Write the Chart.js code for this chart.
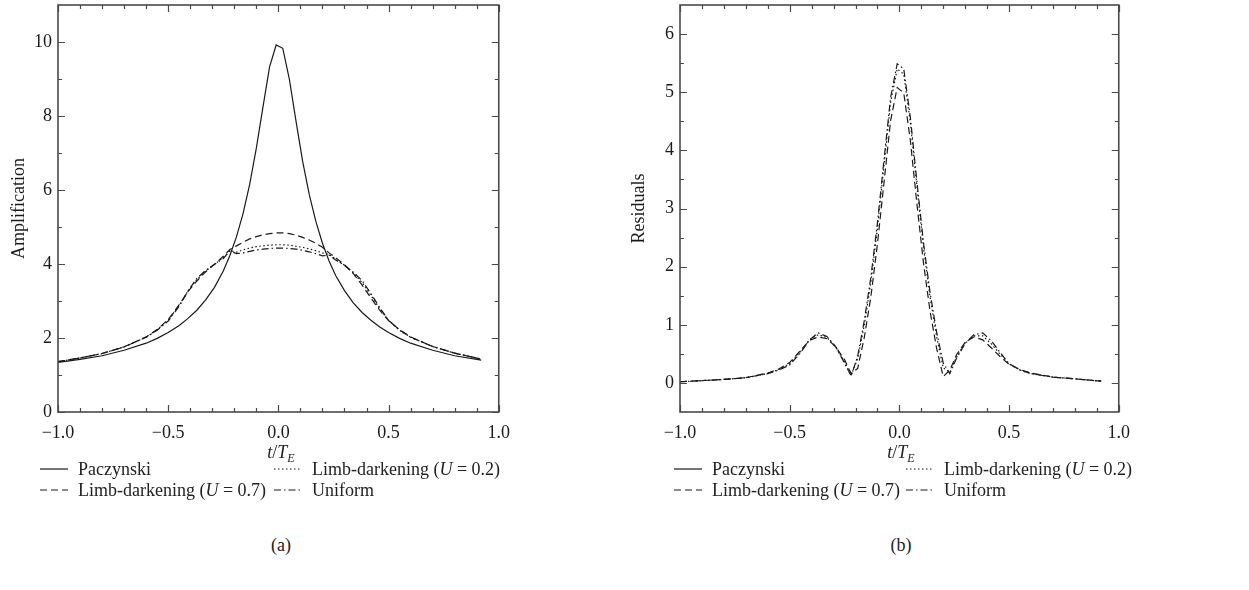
<!DOCTYPE html>
<html>
<head>
<meta charset="utf-8">
<script src="https://cdn.jsdelivr.net/npm/chart.js@4.4.1/dist/chart.umd.min.js"></script>
<style>
  body { margin: 0; background: #fff; font-family: 'Liberation Serif', 'DejaVu Serif', serif; color: #222; }
  #wrap { position: relative; width: 1249px; height: 590px; overflow: hidden; }
  canvas { position: absolute; top: 0; }
  .txt { position: absolute; font-size: 18px; white-space: nowrap; line-height: 1; }
  .ctr { transform: translate(-50%, -50%); }
  .leg { transform: translateY(-50%); display: flex; align-items: center; }
  .leg svg { margin-right: 10px; }
  sub { font-size: 12px; vertical-align: -4px; }
</style>
</head>
<body>
<div id="wrap">
  <canvas id="chartA" width="520" height="445" style="left:0px;width:520px;height:445px"></canvas>
  <canvas id="chartB" width="520" height="445" style="left:620px;width:520px;height:445px"></canvas>
</div>
<script>
// time axis, t / T_E
const tValues = [-1.0, -0.9, -0.8, -0.7, -0.6, -0.55, -0.5, -0.45, -0.41, -0.37, -0.33, -0.29, -0.25, -0.22,
  -0.19, -0.16, -0.13, -0.10, -0.07, -0.04, -0.01, 0.02, 0.05, 0.08, 0.11, 0.14, 0.17, 0.20,
  0.23, 0.26, 0.30, 0.34, 0.38, 0.42, 0.46, 0.50, 0.55, 0.60, 0.70, 0.80, 0.92];

// (a) amplification
const paczynski = [1.34, 1.42, 1.52, 1.67, 1.86, 1.99, 2.15, 2.34, 2.53, 2.75, 3.03, 3.37, 3.81, 4.23,
  4.74, 5.37, 6.16, 7.13, 8.24, 9.33, 9.92, 9.83, 8.99, 7.86, 6.78, 5.88, 5.15, 4.56,
  4.08, 3.69, 3.28, 2.95, 2.69, 2.48, 2.30, 2.15, 1.99, 1.86, 1.67, 1.52, 1.40];
const limbU07 = [1.36, 1.46, 1.58, 1.76, 2.03, 2.23, 2.50, 2.90, 3.26, 3.54, 3.79, 3.99, 4.21, 4.39,
  4.49, 4.59, 4.68, 4.74, 4.79, 4.82, 4.84, 4.84, 4.82, 4.78, 4.72, 4.65, 4.56, 4.45,
  4.30, 4.17, 3.98, 3.74, 3.43, 3.08, 2.75, 2.47, 2.22, 2.03, 1.77, 1.59, 1.43];
const limbU02 = [1.36, 1.46, 1.58, 1.76, 2.02, 2.22, 2.48, 2.88, 3.27, 3.58, 3.81, 3.99, 4.17, 4.36,
  4.32, 4.38, 4.43, 4.47, 4.49, 4.51, 4.52, 4.52, 4.51, 4.48, 4.45, 4.41, 4.36, 4.30,
  4.26, 4.13, 3.97, 3.76, 3.50, 3.15, 2.79, 2.48, 2.21, 2.02, 1.77, 1.59, 1.43];
const uniform = [1.36, 1.46, 1.58, 1.76, 2.02, 2.21, 2.46, 2.86, 3.27, 3.61, 3.83, 3.99, 4.15, 4.35,
  4.28, 4.30, 4.34, 4.38, 4.40, 4.42, 4.43, 4.43, 4.42, 4.40, 4.37, 4.33, 4.28, 4.22,
  4.24, 4.11, 3.96, 3.78, 3.55, 3.20, 2.82, 2.48, 2.21, 2.02, 1.77, 1.59, 1.43];

// (b) residuals
const residU07 = [0.02, 0.04, 0.06, 0.09, 0.17, 0.24, 0.35, 0.56, 0.73, 0.79, 0.76, 0.62, 0.40, 0.16,
  0.25, 0.78, 1.48, 2.39, 3.45, 4.51, 5.08, 4.99, 4.17, 3.08, 2.06, 1.23, 0.59, 0.11,
  0.22, 0.48, 0.70, 0.79, 0.74, 0.60, 0.45, 0.32, 0.23, 0.17, 0.10, 0.07, 0.03];
const residU02 = [0.02, 0.04, 0.06, 0.09, 0.16, 0.23, 0.33, 0.54, 0.74, 0.83, 0.78, 0.62, 0.36, 0.13,
  0.42, 0.99, 1.73, 2.66, 3.75, 4.82, 5.40, 5.31, 4.48, 3.38, 2.33, 1.47, 0.79, 0.26,
  0.18, 0.44, 0.69, 0.81, 0.81, 0.67, 0.49, 0.33, 0.22, 0.16, 0.10, 0.07, 0.03];
const residUniform = [0.02, 0.04, 0.06, 0.09, 0.16, 0.22, 0.31, 0.52, 0.74, 0.86, 0.80, 0.62, 0.34, 0.12,
  0.46, 1.07, 1.82, 2.75, 3.84, 4.91, 5.49, 5.40, 4.57, 3.46, 2.41, 1.55, 0.87, 0.34,
  0.16, 0.42, 0.68, 0.83, 0.86, 0.72, 0.52, 0.33, 0.22, 0.16, 0.10, 0.07, 0.03];

// ticks
const xMajorTicks = [-1.0, -0.5, 0.0, 0.5, 1.0];
const xMinorTicks = [-0.9, -0.8, -0.7, -0.6, -0.4, -0.3, -0.2, -0.1, 0.1, 0.2, 0.3, 0.4, 0.6, 0.7, 0.8, 0.9];
const yMajorTicksA = [0, 2, 4, 6, 8, 10];
const yMinorTicksA = [1, 3, 5, 7, 9];
const yMajorTicksB = [0, 1, 2, 3, 4, 5, 6];
const yMinorTicksB = [0.5, 1.5, 2.5, 3.5, 4.5, 5.5];

const seriesLabels = ['Paczynski', 'Limb-darkening (U = 0.7)', 'Limb-darkening (U = 0.2)', 'Uniform'];
const dashes = [[], [7, 4], [1.5, 2.5], [7, 3, 1.5, 3]];

const serif = "'Liberation Serif', 'DejaVu Serif', serif";
const ink = '#1a1a1a';

function points(ys) {
  return tValues.map((t, i) => ({ x: t, y: ys[i] }));
}

function fmtNum(v, digits) {
  return v.toFixed(digits).replace('-', '\u2212');
}

// frame round the plot plus inward ticks on all four sides
const frameTicks = {
  id: 'frameTicks',
  afterDraw(chart, args, opts) {
    const ctx = chart.ctx;
    const a = chart.chartArea;
    const x = chart.scales.x, y = chart.scales.y;
    ctx.save();
    ctx.strokeStyle = '#4a4a4a';
    ctx.lineWidth = 1.2;
    ctx.beginPath();
    function tickX(v, len) {
      const px = Math.round(x.getPixelForValue(v)) + 0.5;
      ctx.moveTo(px, a.bottom); ctx.lineTo(px, a.bottom - len);
      ctx.moveTo(px, a.top); ctx.lineTo(px, a.top + len);
    }
    function tickY(v, len) {
      const py = Math.round(y.getPixelForValue(v)) + 0.5;
      ctx.moveTo(a.left, py); ctx.lineTo(a.left + len, py);
      ctx.moveTo(a.right, py); ctx.lineTo(a.right - len, py);
    }
    xMajorTicks.forEach(v => tickX(v, 7));
    xMinorTicks.forEach(v => tickX(v, 4));
    opts.yMajor.forEach(v => tickY(v, 7));
    opts.yMinor.forEach(v => tickY(v, 4));
    ctx.stroke();
    ctx.lineWidth = 1.6;
    ctx.strokeRect(a.left, a.top, a.right - a.left, a.bottom - a.top);
    ctx.restore();
  }
};

function makePanel(el, datasets, yTitle, yMin, yMax, yMajor, yMinor, leftWidth, rightPad) {
  return new Chart(el, {
    type: 'line',
    data: {
      datasets: datasets.map(d => ({
        label: d.label,
        data: points(d.values),
        borderColor: ink,
        borderWidth: 1.2,
        borderDash: d.dash,
        pointRadius: 0,
        fill: false,
        tension: 0
      }))
    },
    options: {
      animation: false,
      responsive: false,
      layout: { padding: { top: 5, right: rightPad, left: 0, bottom: 0 } },
      plugins: {
        legend: { display: false },
        tooltip: { enabled: false },
        frameTicks: { yMajor: yMajor, yMinor: yMinor }
      },
      scales: {
        x: {
          type: 'linear',
          min: -1,
          max: 1,
          grid: { display: false, drawTicks: false },
          border: { display: false },
          afterBuildTicks: s => { s.ticks = xMajorTicks.map(v => ({ value: v })); },
          afterFit: s => { s.height = 33; },
          ticks: {
            padding: 10,
            maxRotation: 0,
            color: ink,
            font: { family: serif, size: 18 },
            callback: v => fmtNum(v, 1)
          }
        },
        y: {
          min: yMin,
          max: yMax,
          grid: { display: false, drawTicks: false },
          border: { display: false },
          afterBuildTicks: s => { s.ticks = yMajor.map(v => ({ value: v })); },
          afterFit: s => { s.width = leftWidth; s.paddingTop = 0; s.paddingBottom = 0; },
          title: {
            display: true,
            text: yTitle,
            color: ink,
            padding: { top: 8, bottom: 0 },
            font: { family: serif, size: 18 }
          },
          ticks: {
            padding: 6,
            color: ink,
            font: { family: serif, size: 18 },
            callback: v => fmtNum(v, 0)
          }
        }
      }
    },
    plugins: [frameTicks]
  });
}

makePanel(document.getElementById('chartA'), [
  { label: seriesLabels[0], values: paczynski, dash: dashes[0] },
  { label: seriesLabels[1], values: limbU07, dash: dashes[1] },
  { label: seriesLabels[2], values: limbU02, dash: dashes[2] },
  { label: seriesLabels[3], values: uniform, dash: dashes[3] }
], 'Amplification', 0, 11, yMajorTicksA, yMinorTicksA, 58, 16);

makePanel(document.getElementById('chartB'), [
  { label: seriesLabels[1], values: residU07, dash: dashes[1] },
  { label: seriesLabels[2], values: residU02, dash: dashes[2] },
  { label: seriesLabels[3], values: residUniform, dash: dashes[3] }
], 'Residuals', -0.5, 6.5, yMajorTicksB, yMinorTicksB, 60, 20);

// axis titles, legends and captions as html text
const wrap = document.getElementById('wrap');

function addText(html, left, top, cls) {
  const d = document.createElement('div');
  d.className = 'txt ' + cls;
  d.style.left = left + 'px';
  d.style.top = top + 'px';
  d.innerHTML = html;
  wrap.appendChild(d);
}

function sample(dash) {
  const da = dash.length ? ' stroke-dasharray="' + dash.join(' ') + '"' : '';
  return '<svg width="28" height="6"><line x1="0" y1="3" x2="28" y2="3" stroke="' + ink + '" stroke-width="1.2"' + da + '/></svg>';
}

function legendText(label) {
  return label.replace('(U =', '(<i>U</i>&nbsp;=');
}

function addPanelText(center, legX, legX2, caption) {
  addText('<i>t</i>/<i>T</i><sub><i>E</i></sub>', center, 453, 'ctr');
  addText(sample(dashes[0]) + legendText(seriesLabels[0]), legX, 469, 'leg');
  addText(sample(dashes[2]) + legendText(seriesLabels[2]), legX2, 469, 'leg');
  addText(sample(dashes[1]) + legendText(seriesLabels[1]), legX, 490, 'leg');
  addText(sample(dashes[3]) + legendText(seriesLabels[3]), legX2, 490, 'leg');
  addText(caption, center, 545, 'ctr');
}

addPanelText(281, 40, 274, '(a)');
addPanelText(901, 674, 906, '(b)');
</script>
</body>
</html>
